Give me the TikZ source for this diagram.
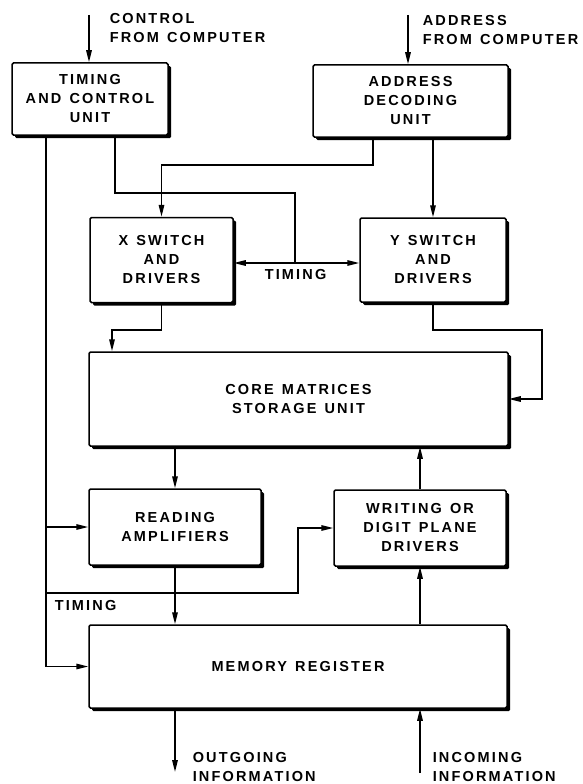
\documentclass[tikz,border=0pt]{standalone}
\usepackage{fontspec}
\newfontfamily\blockfont{Liberation Sans}[LetterSpace=15,WordSpace=1.3]
\usetikzlibrary{arrows.meta,shadows}

\begin{document}
\begin{tikzpicture}[x=1pt, y=-1pt, line width=1.5pt,
    >={Triangle[length=12pt,width=5.5pt]},
    unit/.style={draw, fill=white, rounded corners=1.5pt, align=center, inner sep=0pt,
      font=\blockfont\bfseries\fontsize{14.5}{19}\selectfont,
      drop shadow={shadow xshift=3.2pt, shadow yshift=-3.2pt, fill=black, opacity=1}},
    tag/.style={align=left, inner sep=0pt, anchor=north west,
      font=\blockfont\bfseries\fontsize{14.5}{19}\selectfont}]
    \useasboundingbox (0,0) rectangle (582,784);

    % ===== units =====
    \node[unit, minimum width=156pt, minimum height=72pt] (tcu) at (90,99) {TIMING\\AND CONTROL\\UNIT};
    \node[unit, minimum width=195pt, minimum height=72pt] (adu) at (410.5,101) {ADDRESS\\DECODING\\UNIT};
    \node[unit, minimum width=143pt, minimum height=85pt] (xsw) at (161.5,260) {X SWITCH\\AND\\DRIVERS};
    \node[unit, minimum width=146pt, minimum height=84pt] (ysw) at (433,260) {Y SWITCH\\AND\\DRIVERS};
    \node[unit, minimum width=419pt, minimum height=94pt] (core) at (298.5,399) {CORE MATRICES\\STORAGE UNIT};
    \node[unit, minimum width=172pt, minimum height=76pt] (read) at (175,527) {READING\\AMPLIFIERS};
    \node[unit, minimum width=172pt, minimum height=76pt] (write) at (420,528) {WRITING OR\\DIGIT PLANE\\DRIVERS};
    \node[unit, minimum width=418pt, minimum height=83pt] (mreg) at (298,666.5) {MEMORY REGISTER};

    % ===== labels =====
    \node[tag] (ctltxt) at (109,13) {CONTROL\\FROM COMPUTER};
    \node[tag] (adrtxt) at (422,15) {ADDRESS\\FROM COMPUTER};
    \node[tag] (bustxt) at (264,269) {TIMING};
    \node[tag] (lowtxt) at (54,600) {TIMING};
    \node[tag] (outtxt) at (192,752) {OUTGOING\\INFORMATION};
    \node[tag] (intxt) at (432,752) {INCOMING\\INFORMATION};

    % ===== routing points =====
    \coordinate (ctlin) at (89,15);
    \coordinate (adrin) at (408,15);
    \coordinate (tdrop) at (115,193);
    \coordinate (tbus) at (295,263);
    \coordinate (adrop) at (373,165);
    \coordinate (xjog) at (112,330);
    \coordinate (yjog) at (542,330);
    \coordinate (lane) at (46,140);
    \coordinate (tlow) at (46,593);
    \coordinate (wjog) at (298,593);
    \coordinate (outend) at (175,772);
    \coordinate (inbeg) at (420,773);

    % ===== top =====
    \draw[->] (ctlin) -- (ctlin |- tcu.north);
    \draw[->] (adrin) -- (adrin |- adu.north);
    \draw (tcu.south -| tdrop) -- (tdrop) -| (tbus);
    \draw[->] (tbus) -- (tbus -| xsw.east);
    \draw[->] (tbus) -- (tbus -| ysw.west);
    \draw[->] (adu.south -| adrop) -- (adrop) -| (xsw.north);
    \draw[->] (adu.south -| ysw.north) -- (ysw.north);

    % ===== switches to core =====
    \draw[->] (xsw.south) |- (xjog) -- (xjog |- core.north);
    \draw[->] (ysw.south) |- (yjog) |- (core.east);

    % ===== core, amplifiers, drivers, register =====
    \draw[->] (core.south -| read.north) -- (read.north);
    \draw[->] (write.north) -- (write.north |- core.south);
    \draw[->] (read.south) -- (read.south |- mreg.north);
    \draw[->] (mreg.north -| write.south) -- (write.south);
    \draw[->] (read.south |- mreg.south) -- (outend);
    \draw[->] (inbeg) -- (inbeg |- mreg.south);

    % ===== timing lane =====
    \draw[->] (tcu.south -| lane) |- (mreg.west);
    \draw[->] (read.west -| lane) -- (read.west);
    \draw[->] (tlow) -| (wjog |- write.west) -- (write.west);
\end{tikzpicture}
\end{document}
